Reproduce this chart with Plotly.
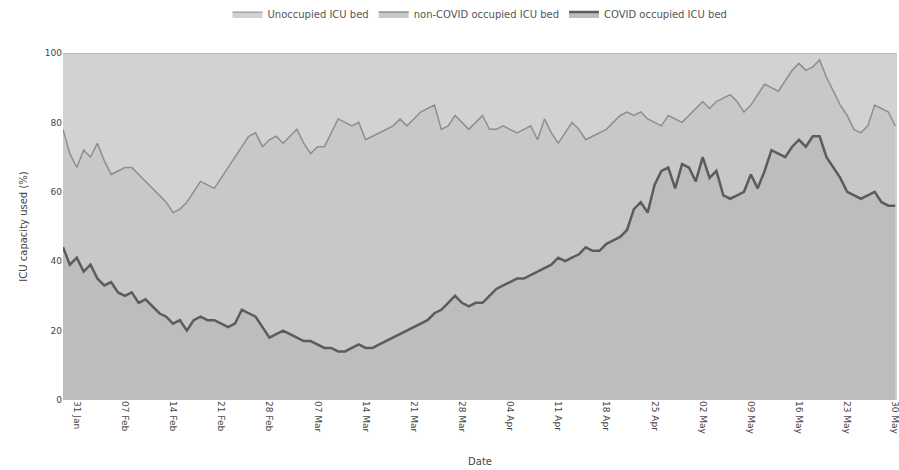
import pandas as pd
import plotly.graph_objects as go

dates = pd.date_range("2021-01-29", "2021-05-30", freq="D")

covid_pct = [44, 39, 41, 37, 39, 35, 33, 34, 31, 30, 31, 28, 29, 27, 25, 24, 22, 23, 20, 23,
             24, 23, 23, 22, 21, 22, 26, 25, 24, 21, 18, 19, 20, 19, 18, 17, 17, 16, 15, 15,
             14, 14, 15, 16, 15, 15, 16, 17, 18, 19, 20, 21, 22, 23, 25, 26, 28, 30, 28, 27,
             28, 28, 30, 32, 33, 34, 35, 35, 36, 37, 38, 39, 41, 40, 41, 42, 44, 43, 43, 45,
             46, 47, 49, 55, 57, 54, 62, 66, 67, 61, 68, 67, 63, 70, 64, 66, 59, 58, 59, 60,
             65, 61, 66, 72, 71, 70, 73, 75, 73, 76, 76, 70, 67, 64, 60, 59, 58, 59, 60, 57,
             56, 56]

occupied_pct = [78, 71, 67, 72, 70, 74, 69, 65, 66, 67, 67, 65, 63, 61, 59, 57, 54, 55, 57, 60,
                63, 62, 61, 64, 67, 70, 73, 76, 77, 73, 75, 76, 74, 76, 78, 74, 71, 73, 73, 77,
                81, 80, 79, 80, 75, 76, 77, 78, 79, 81, 79, 81, 83, 84, 85, 78, 79, 82, 80, 78,
                80, 82, 78, 78, 79, 78, 77, 78, 79, 75, 81, 77, 74, 77, 80, 78, 75, 76, 77, 78,
                80, 82, 83, 82, 83, 81, 80, 79, 82, 81, 80, 82, 84, 86, 84, 86, 87, 88, 86, 83,
                85, 88, 91, 90, 89, 92, 95, 97, 95, 96, 98, 93, 89, 85, 82, 78, 77, 79, 85, 84,
                83, 79]

non_covid_pct = [o - c for o, c in zip(occupied_pct, covid_pct)]
unoccupied_pct = [100 - o for o in occupied_pct]

tick_dates = pd.date_range("2021-01-31", "2021-05-30", freq="7D")

fig = go.Figure()
fig.add_trace(go.Scatter(x=dates, y=covid_pct, name="COVID occupied ICU bed",
                         stackgroup="icu", mode="lines",
                         line=dict(color="#5c5c5c", width=2.5), fillcolor="#bdbdbd"))
fig.add_trace(go.Scatter(x=dates, y=non_covid_pct, name="non-COVID occupied ICU bed",
                         stackgroup="icu", mode="lines",
                         line=dict(color="#8e8e8e", width=1.5), fillcolor="#c8c8c8"))
fig.add_trace(go.Scatter(x=dates, y=unoccupied_pct, name="Unoccupied ICU bed",
                         stackgroup="icu", mode="lines",
                         line=dict(color="#9a9a9a", width=1.2), fillcolor="#d2d2d2"))

fig.update_layout(
    width=899, height=470,
    margin=dict(l=63, r=2, t=53, b=70),
    paper_bgcolor="white", plot_bgcolor="#d2d2d2",
    font=dict(family="DejaVu Sans", size=9, color="#444444"),
    legend=dict(orientation="h", x=0.5, xanchor="center", y=0.97, yanchor="middle",
                yref="container", traceorder="reversed",
                font=dict(size=10, color="#555555")),
    showlegend=True,
)
fig.update_xaxes(range=[dates[0], pd.Timestamp("2021-05-30 06:00")], tickvals=tick_dates,
                 tickformat="%d %b", automargin=False, ticklabeloverflow="allow",
                 tickangle=90, showgrid=False, ticks="", zeroline=False,
                 title=dict(text="Date", font=dict(size=10, color="#444444"), standoff=24),
                 tickfont=dict(size=9, color="#444444"))
fig.update_yaxes(range=[0, 100], tickvals=[0, 20, 40, 60, 80, 100], showgrid=False,
                 zeroline=False, ticks="", automargin=False,
                 title=dict(text="ICU capacity used (%)", font=dict(size=10, color="#444444")),
                 tickfont=dict(size=9, color="#444444"))

fig.write_html("out.html", config={"displayModeBar": False},
               post_script="document.body.style.margin='0';")
